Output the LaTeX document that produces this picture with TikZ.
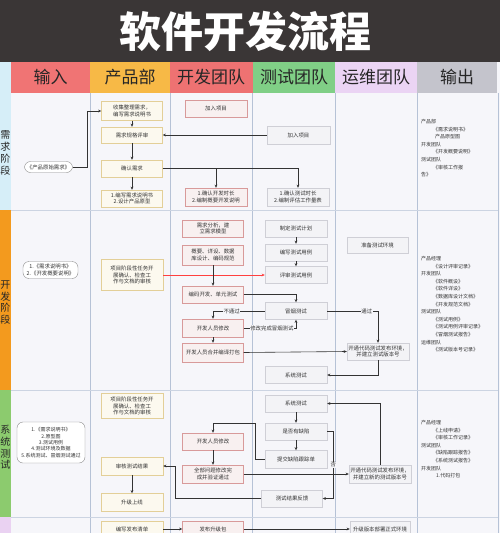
\documentclass[tikz,border=0pt]{standalone}
\usepackage{fontspec}
\setmainfont{Noto Sans CJK SC}
\XeTeXlinebreaklocale "zh"
\XeTeXlinebreakskip=0pt
\usetikzlibrary{arrows.meta}
\definecolor{titlebg}{HTML}{3A3636}
\definecolor{hdrin}{HTML}{F07474}
\definecolor{hdrpm}{HTML}{F7B946}
\definecolor{hdrdev}{HTML}{EE7272}
\definecolor{hdrtest}{HTML}{80CF86}
\definecolor{hdrops}{HTML}{EBD4F4}
\definecolor{hdrout}{HTML}{C4C4CC}
\definecolor{bodybg}{HTML}{F6F6FA}
\definecolor{laneline}{HTML}{B6C2D6}
\definecolor{stgreq}{HTML}{D6EEF8}
\definecolor{stgdev}{HTML}{F39A1E}
\definecolor{stgtest}{HTML}{8CCB6E}
\definecolor{stgops}{HTML}{EAD2F2}
\definecolor{pmfill}{HTML}{FCF9EF}
\definecolor{pmline}{HTML}{E3CF98}
\definecolor{devfill}{HTML}{F8F0F0}
\definecolor{devline}{HTML}{D89A9A}
\definecolor{boxfill}{HTML}{F3F3F6}
\definecolor{boxline}{HTML}{CFCFD6}
\begin{document}
\begin{tikzpicture}[x=1pt,y=-1pt,
    box/.style={draw, minimum width=61pt, minimum height=17pt, text width=56pt, align=center, inner sep=1pt, text=black!80, font=\fontsize{5.4}{6.6}\selectfont},
    pmbox/.style={box, fill=pmfill, draw=pmline},
    devbox/.style={box, fill=devfill, draw=devline},
    testbox/.style={box, fill=boxfill, draw=boxline},
    opsbox/.style={box, fill=boxfill, draw=boxline},
    inbox/.style={box, fill=white, draw=black!45, rounded corners=6pt},
    lab/.style={fill=bodybg, inner sep=0.5pt, text=black!80, font=\fontsize{5.4}{6}\selectfont},
    arr/.style={-{Stealth[length=3.2pt,width=2.8pt]}, line width=0.6pt, draw=black!80},
    outtxt/.style={anchor=north west, align=left, inner sep=0pt, text=black!80, font=\fontsize{5}{7.6}\selectfont},
    stage/.style={align=center, text=black!85, font=\fontsize{10}{12}\selectfont},
    hdr/.style={text=black!85, font=\fontsize{17}{17}\selectfont}]
    \useasboundingbox (0,0) rectangle (500,533);
    \fill[titlebg] (0,0) rectangle (500,62);
    \node[text=white, font=\fontsize{42}{42}\bfseries\selectfont] (title) at (245,31) {软件开发流程};
    \fill[bodybg] (0,62) rectangle (500,533);
    \fill[stgreq] (0,62) rectangle (11,210);
    \fill[stgdev] (0,210) rectangle (11,390);
    \fill[stgtest] (0,390) rectangle (11,517);
    \fill[stgops] (0,517) rectangle (11,533);
    \fill[hdrin] (11,62) rectangle (90,93);     \node[hdr] (hin) at (50.5,77.5) {输入};
    \fill[hdrpm] (90,62) rectangle (170,93);    \node[hdr] (hpm) at (130,77.5) {产品部};
    \fill[hdrdev] (170,62) rectangle (252.5,93); \node[hdr] (hdev) at (211,77.5) {开发团队};
    \fill[hdrtest] (252.5,62) rectangle (335,93); \node[hdr] (htest) at (294,77.5) {测试团队};
    \fill[hdrops] (335,62) rectangle (417,93);  \node[hdr] (hops) at (376,77.5) {运维团队};
    \fill[hdrout] (417,62) rectangle (497,93);  \node[hdr] (hout) at (457,77.5) {输出};
    \foreach \lx in {90,170,252.5,335,417,498}
        \draw[laneline, line width=0.7pt] (\lx,93) -- (\lx,533);
    \foreach \ly in {210,390,517}
        \draw[laneline!70, line width=0.7pt] (11,\ly) -- (498,\ly);
    \node[stage] (s1) at (5.5,153) {需\\求\\阶\\段};
    \node[stage, font=\fontsize{10}{11.7}\selectfont] (s2) at (5.5,302.5) {开\\发\\阶\\段};
    \node[stage, font=\fontsize{10}{11.7}\selectfont] (s3) at (5.5,447.5) {系\\统\\测\\试};

    \node[inbox, minimum width=48pt, minimum height=11pt, text width=46pt] (in1) at (48.5,167) {《产品原始需求》};
    \node[pmbox, minimum height=19pt] (p1) at (132,111) {收集整理需求，编写需求说明书};
    \node[pmbox, minimum height=16pt] (p2) at (132,135) {需求规格评审};
    \node[pmbox] (p3) at (132,168.5) {确认需求};
    \node[pmbox] (p4) at (132,198.5) {1.编写需求说明书\\2.设计产品原型};
    \node[devbox, minimum width=62pt] (d1) at (216,108.5) {加入项目};
    \node[testbox, minimum width=63pt, minimum height=18pt] (t1) at (298.5,135) {加入项目};
    \node[devbox, minimum width=62pt, minimum height=18pt] (d2) at (216,197) {1.确认开发时长\\2.编制概要开发说明};
    \node[testbox, minimum width=62pt, minimum height=18pt] (t2) at (298,197) {1.确认测试时长\\2.编制评估工作量表};
    \node[outtxt] (out1) at (421,119) {产品部\\\hspace*{12pt}《需求说明书》\\\hspace*{14pt}产品原型图\\开发团队\\\hspace*{12pt}《开发概要说明》\\测试团队\\\hspace*{12pt}《审核工作报\\告》};
    \draw[arr] (in1.east) -- ++(15,0) |- (p1.west);
    \draw[arr] (p1) -- (p2);
    \draw[arr] (p2) -- (p3);
    \draw[arr] (p3) -- (p4);
    \draw[arr] (t1.west) -- (t1.west -| p2.east);
    \draw[arr] (p3.east) -| (t2.north);
    \draw[arr] (p3.east -| d2.north) -- (d2.north);

    \node[inbox, minimum width=55pt, text width=53pt] (in2) at (50.5,270) {1.《需求说明书》\\2.《开发概要说明》};
    \node[pmbox, minimum width=62pt, minimum height=31pt] (p5) at (132,275) {项目阶段性任务开展确认、检查工作与文档的审核};
    \node[devbox] (d3) at (213,228.5) {需求分析，建立需求模型};
    \node[devbox, minimum height=20pt] (d4) at (213,255) {概要、详设、数据库设计、编码规范};
    \node[devbox] (d5) at (213,294.5) {编码开发、单元测试};
    \node[devbox, minimum height=18pt] (d6) at (213,328) {开发人员修改};
    \node[devbox, minimum height=19pt] (d7) at (213,352.5) {开发人员合并编译打包};
    \node[testbox, minimum width=62pt] (t3) at (296,228.5) {制定测试计划};
    \node[testbox, minimum width=62pt] (t4) at (296,252.5) {编写测试用例};
    \node[testbox, minimum width=62pt] (t5) at (296,275) {评审测试用例};
    \node[testbox, minimum width=62pt] (t6) at (296,311) {冒烟测试};
    \node[testbox, minimum width=62pt] (t7) at (296,375) {系统测试};
    \node[opsbox, minimum height=16pt] (o1) at (377.5,245) {准备测试环境};
    \node[opsbox, text width=60pt] (o2) at (378,351.5) {开通代码测试发布环境，\\并建立测试版本号};
    \node[outtxt] (out2) at (421,256) {产品经理\\\hspace*{12pt}《设计评审记录》\\开发团队\\\hspace*{12pt}《软件概设》\\\hspace*{12pt}《软件详设》\\\hspace*{12pt}《数据库设计文档》\\\hspace*{12pt}《开发规范文档》\\测试团队\\\hspace*{12pt}《测试用例》\\\hspace*{12pt}《测试用例评审记录》\\\hspace*{12pt}《冒烟测试报告》\\运维团队\\\hspace*{12pt}《测试版本号记录》};
    \draw[arr, draw=red!75] (p5.east) -- (t5.west);
    \draw[arr] (d4) -- (d5);
    \draw[arr] (d6) -- (d7);
    \draw[arr] (t3) -- (t4);
    \draw[arr] (t4) -- (t5);
    \draw[arr] (d5.east) -| (t6.north);
    \draw[arr] (t6.west) -| node[lab, pos=0.32] {不通过} (d6.north);
    \draw[arr] (d6.east) -| node[lab, pos=0.27] {修改完成冒烟测试} (t6.south);
    \draw[arr] (t6.east) -| node[lab, pos=0.39] {通过} (o2.north);
    \draw[arr] (d7.east) -- (o2.west);
    \draw[arr] (o2.south) |- (t7.east);

    \node[inbox, minimum width=68pt, minimum height=41pt, text width=66pt, font=\fontsize{5}{6.3}\selectfont] (in3) at (51,442.5) {1.《需求说明书》\\2.原型图\\3.测试用例\\4.测试环境及数据\\5.系统测试、冒烟测试通过};
    \node[pmbox, minimum width=62pt, minimum height=25pt] (p6) at (132,406) {项目阶段性任务开展确认、检查工作与文档的审核};
    \node[pmbox, minimum width=62pt, minimum height=18pt] (p7) at (132,466) {审核测试结果};
    \node[pmbox, minimum width=62pt, minimum height=18pt] (p8) at (132,502.5) {升级上线};
    \node[devbox] (d8) at (213,441.5) {开发人员修改};
    \node[devbox, minimum height=18pt] (d9) at (213,474) {全部问题修改完成并验证通过};
    \node[testbox, minimum width=62pt] (t8) at (296,403.5) {系统测试};
    \node[testbox, minimum width=62pt] (t9) at (296,431.5) {是否有缺陷};
    \node[testbox, minimum width=62pt, minimum height=18pt] (t10) at (296,459.5) {提交缺陷跟踪单};
    \node[testbox] (t11) at (292,498.5) {测试结果反馈};
    \node[opsbox, minimum width=60pt, minimum height=18pt, text width=60pt] (o3) at (380,474) {开通代码测试发布环境，\\并建立新的测试版本号};
    \node[outtxt] (out3) at (421,420) {产品经理\\\hspace*{12pt}《上线申请》\\\hspace*{12pt}《审核工作记录》\\测试团队\\\hspace*{12pt}《缺陷跟踪报告》\\\hspace*{12pt}《系统测试报告》\\开发团队\\\hspace*{15pt}1.代码打包};
    \coordinate (c1) at (255,423);
    \coordinate (c3) at (175,498.5);
    \draw[arr] (t8) -- (t9);
    \draw[arr] (t9) -- (t10);
    \draw[arr] (p7) -- (p8);
    \draw[arr] (d8) -- (d9);
    \draw[arr] (t10.west) -| (c1) -| (d8.north);
    \draw[arr] (t9.east) -- ++(6,0) |- node[lab, pos=0.25] {否} (t11.east);
    \draw[arr] (t11.west) -- (c3) |- (p7.east);
    \draw[arr] (d9.east) -- (o3.west);
    \draw[arr] (o3.north) |- (t8.east);

    \node[pmbox, minimum width=62pt, minimum height=16pt] (p9) at (132,529) {编写发布清单};
    \node[devbox, minimum height=16pt] (d10) at (213,529) {发布升级包};
    \node[opsbox, minimum width=60pt, minimum height=16pt] (o4) at (380,529) {升级版本部署正式环境};
    \draw[arr] (p9) -- (d10);
    \draw[arr] (d10) -- (o4);
\end{tikzpicture}
\end{document}
